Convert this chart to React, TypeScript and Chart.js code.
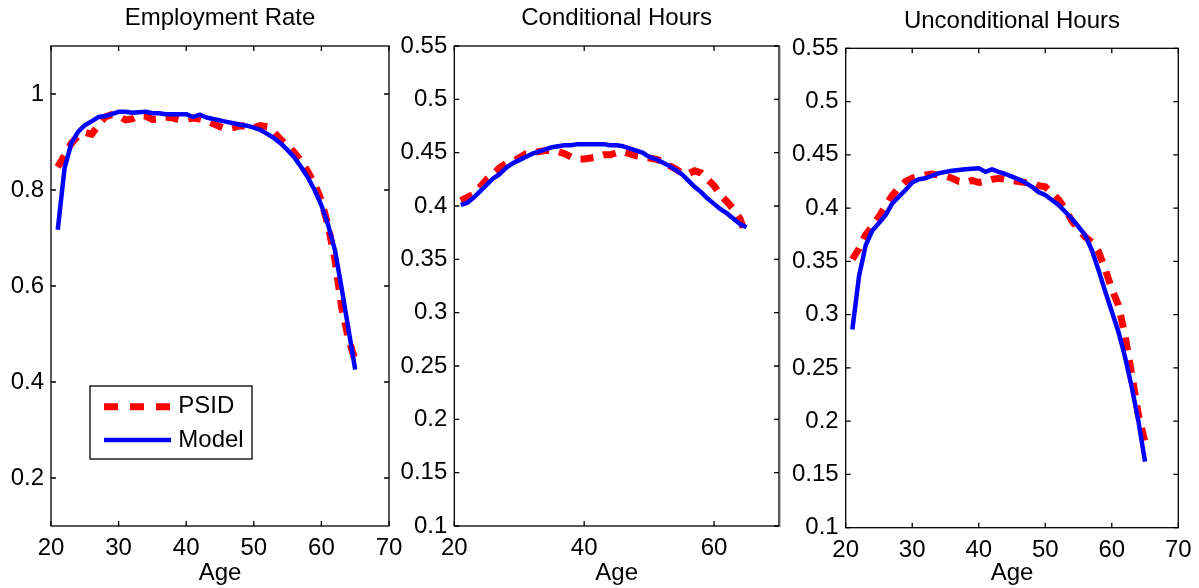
import React, { useEffect, useRef } from "react";
import { Chart, registerables } from "chart.js";

Chart.register(...registerables);

const FONT = '"Liberation Sans", Arial, Helvetica, sans-serif';
const FS = 24;

// ---------------- data ----------------
const ages = [
  21, 22, 23, 24, 25, 26, 27, 28, 29, 30, 31, 32, 33, 34, 35, 36, 37, 38, 39, 40, 41, 42, 43,
  44, 45, 46, 47, 48, 49, 50, 51, 52, 53, 54, 55, 56, 57, 58, 59, 60, 61, 62, 63, 64, 65,
];

const empPSID = [
  0.848, 0.872, 0.897, 0.912, 0.92, 0.916, 0.935, 0.952, 0.957, 0.955, 0.946, 0.948, 0.955,
  0.954, 0.947, 0.948, 0.952, 0.95, 0.946, 0.947, 0.95, 0.948, 0.944, 0.938, 0.932, 0.927,
  0.93, 0.934, 0.933, 0.93, 0.934, 0.932, 0.92, 0.905, 0.893, 0.878, 0.86, 0.838, 0.812,
  0.778, 0.725, 0.655, 0.555, 0.49, 0.445,
];
const empModel = [
  0.717, 0.845, 0.897, 0.921, 0.935, 0.943, 0.952, 0.954, 0.958, 0.963, 0.963, 0.961, 0.962,
  0.963, 0.96, 0.96, 0.958, 0.958, 0.958, 0.958, 0.952, 0.957, 0.951, 0.948, 0.945, 0.942,
  0.939, 0.936, 0.934, 0.93, 0.925, 0.917, 0.908, 0.897, 0.883, 0.868, 0.848, 0.826, 0.8,
  0.768, 0.727, 0.675, 0.595, 0.51, 0.426,
];

const condPSID = [
  0.405, 0.408, 0.411, 0.418, 0.425, 0.43, 0.436, 0.44, 0.442, 0.445, 0.449, 0.45, 0.451,
  0.452, 0.452, 0.451, 0.449, 0.446, 0.444, 0.444, 0.445, 0.446, 0.448, 0.448, 0.45, 0.451,
  0.449, 0.447, 0.446, 0.445, 0.444, 0.442, 0.438, 0.435, 0.431, 0.43, 0.433, 0.431, 0.425,
  0.419, 0.41, 0.404, 0.397, 0.388, 0.371,
];
const condModel = [
  0.401, 0.403, 0.408, 0.414, 0.42, 0.426, 0.43, 0.436, 0.44, 0.443, 0.446, 0.449, 0.451,
  0.453, 0.455, 0.456, 0.457, 0.457, 0.458, 0.458, 0.458, 0.458, 0.458, 0.457, 0.457, 0.456,
  0.454, 0.452, 0.45, 0.446, 0.444, 0.441, 0.438, 0.434, 0.43, 0.424, 0.418, 0.413, 0.407,
  0.402, 0.397, 0.393, 0.388, 0.383, 0.38,
];

const uncondPSID = [
  0.352, 0.362, 0.375, 0.383, 0.392, 0.402, 0.412, 0.419, 0.425, 0.428, 0.43, 0.431, 0.432,
  0.431, 0.43, 0.428, 0.425, 0.424, 0.426, 0.424, 0.425, 0.427, 0.428, 0.427, 0.426, 0.425,
  0.424, 0.424, 0.421, 0.42, 0.414, 0.408, 0.399, 0.388, 0.38, 0.373, 0.368, 0.359, 0.343,
  0.324, 0.309, 0.28, 0.244, 0.206, 0.18,
];
const uncondModel = [
  0.286, 0.336, 0.365, 0.379, 0.386, 0.3935, 0.4045, 0.4107, 0.417, 0.424, 0.427, 0.428,
  0.4304, 0.4327, 0.434, 0.435, 0.4358, 0.4364, 0.437, 0.4375, 0.434, 0.4364, 0.434, 0.432,
  0.4295, 0.427, 0.424, 0.42, 0.415, 0.4123, 0.4076, 0.403, 0.3966, 0.39, 0.3825, 0.3747,
  0.3607, 0.342, 0.322, 0.303, 0.284, 0.26, 0.232, 0.2, 0.162,
];

const empYTicks = [0.2, 0.4, 0.6, 0.8, 1];
const hoursYTicks = [0.1, 0.15, 0.2, 0.25, 0.3, 0.35, 0.4, 0.45, 0.5, 0.55];
const xTicksTen = [20, 30, 40, 50, 60, 70];
const xTicksTwenty = [20, 40, 60];

const titles = ["Employment Rate", "Conditional Hours", "Unconditional Hours"];
const seriesNames = ["PSID", "Model"];
const xAxisTitle = "Age";

// ---------------- layout (not data) ----------------
const panels = [
  {
    title: titles[0], psid: empPSID, model: empModel, yMin: 0.1, yMax: 1.1,
    yTicks: empYTicks, xTicks: xTicksTen,
    left: 0, width: 420, yWidth: 51, padRight: 31, titleTop: 4.1, titleBottom: 13.1,
    xHeight: 62, legend: true,
  },
  {
    title: titles[1], psid: condPSID, model: condModel, yMin: 0.1, yMax: 0.55,
    yTicks: hoursYTicks, xTicks: xTicksTwenty,
    left: 395, width: 410, yWidth: 59.3, padRight: 26, titleTop: 4.1, titleBottom: 13.1,
    xHeight: 62, legend: false,
  },
  {
    title: titles[2], psid: uncondPSID, model: uncondModel, yMin: 0.1, yMax: 0.55,
    yTicks: hoursYTicks, xTicks: xTicksTen,
    left: 785, width: 424, yWidth: 60.7, padRight: 30.7, titleTop: 6.9, titleBottom: 12.6,
    xHeight: 60.3, legend: false,
  },
];

const RED = "#ff0000";
const BLUE = "#0000ff";
const RED_W = 7;
const BLUE_W = 4.5;
const DASH = [13, 10];

const framePlugin = {
  id: "frameBox",
  afterDraw(chart: any, _args: any, opts: any) {
    const { ctx, chartArea: a, scales } = chart;
    ctx.save();
    ctx.strokeStyle = "#000";
    ctx.lineWidth = 1.3;
    ctx.setLineDash([]);
    ctx.strokeRect(a.left, a.top, a.right - a.left, a.bottom - a.top);
    const L = 5;
    ctx.beginPath();
    scales.x.ticks.forEach((t: any) => {
      const px = scales.x.getPixelForValue(t.value);
      ctx.moveTo(px, a.bottom);
      ctx.lineTo(px, a.bottom - L);
      ctx.moveTo(px, a.top);
      ctx.lineTo(px, a.top + L);
    });
    scales.y.ticks.forEach((t: any) => {
      const py = scales.y.getPixelForValue(t.value);
      ctx.moveTo(a.left, py);
      ctx.lineTo(a.left + L, py);
      ctx.moveTo(a.right, py);
      ctx.lineTo(a.right - L, py);
    });
    ctx.stroke();

    if (opts && opts.legend) {
      const bx = a.left + 39;
      const by = a.top + 340;
      const bw = 162;
      const bh = 73;
      ctx.fillStyle = "#fff";
      ctx.fillRect(bx, by, bw, bh);
      ctx.strokeStyle = "#000";
      ctx.lineWidth = 1.3;
      ctx.strokeRect(bx, by, bw, bh);
      const rows = [by + 20.7, by + 54];
      const dsList = chart.data.datasets;
      dsList.forEach((ds: any, i: number) => {
        const y = rows[i];
        ctx.save();
        ctx.strokeStyle = ds.borderColor;
        ctx.lineWidth = ds.borderWidth;
        ctx.lineCap = "butt";
        ctx.setLineDash(ds.borderDash && ds.borderDash.length ? [14, 12] : []);
        ctx.beginPath();
        ctx.moveTo(bx + 14, y);
        ctx.lineTo(bx + 81, y);
        ctx.stroke();
        ctx.restore();
        ctx.fillStyle = "#000";
        ctx.font = `${FS}px ${FONT}`;
        ctx.textBaseline = "middle";
        ctx.textAlign = "left";
        ctx.fillText(ds.label, bx + 88.3, y);
      });
    }
    ctx.restore();
  },
};

function makeConfig(p: any): any {
  const font = { family: FONT, size: FS };
  return {
    type: "line",
    data: {
      datasets: [
        {
          label: seriesNames[0],
          data: ages.map((a, i) => ({ x: a, y: p.psid[i] })),
          borderColor: RED,
          backgroundColor: RED,
          borderWidth: RED_W,
          borderDash: DASH,
          borderCapStyle: "butt",
          pointRadius: 0,
          tension: 0,
          fill: false,
          order: 1,
        },
        {
          label: seriesNames[1],
          data: ages.map((a, i) => ({ x: a, y: p.model[i] })),
          borderColor: BLUE,
          backgroundColor: BLUE,
          borderWidth: BLUE_W,
          borderCapStyle: "butt",
          borderJoinStyle: "round",
          pointRadius: 0,
          tension: 0,
          fill: false,
          order: 0,
        },
      ],
    },
    options: {
      responsive: false,
      animation: false,
      devicePixelRatio: 1,
      layout: { padding: { left: 0, right: p.padRight, top: 0, bottom: 0 } },
      plugins: {
        legend: { display: false },
        tooltip: { enabled: false },
        title: {
          display: true,
          text: p.title,
          color: "#000",
          font: { family: FONT, size: FS, weight: "normal" },
          padding: { top: p.titleTop, bottom: p.titleBottom },
          fullSize: false,
        },
        frameBox: { legend: p.legend },
      },
      scales: {
        x: {
          type: "linear",
          min: 20,
          max: 70,
          grid: { display: false, drawTicks: false, tickLength: 0 },
          border: { display: false },
          ticks: {
            color: "#000",
            font,
            padding: 8,
            autoSkip: false,
            maxRotation: 0,
            callback: (v: any) => String(v),
          },
          afterBuildTicks: (scale: any) => {
            scale.ticks = p.xTicks.map((v: number) => ({ value: v }));
          },
          afterFit: (scale: any) => {
            scale.height = p.xHeight;
          },
          title: {
            display: true,
            text: xAxisTitle,
            color: "#000",
            font,
            padding: { top: 0, bottom: 0 },
          },
        },
        y: {
          type: "linear",
          min: p.yMin,
          max: p.yMax,
          grid: { display: false, drawTicks: false, tickLength: 0 },
          border: { display: false },
          ticks: {
            color: "#000",
            font,
            padding: 7,
            autoSkip: false,
            callback: (v: any) => String(v),
          },
          afterBuildTicks: (scale: any) => {
            scale.ticks = p.yTicks.map((v: number) => ({ value: v }));
          },
          afterFit: (scale: any) => {
            scale.width = p.yWidth;
          },
        },
      },
    },
    plugins: [framePlugin],
  };
}

function Panel({ p }: { p: any }) {
  const ref = useRef<HTMLCanvasElement | null>(null);
  useEffect(() => {
    if (!ref.current) return;
    const chart = new Chart(ref.current, makeConfig(p));
    return () => chart.destroy();
  }, [p]);
  return (
    <canvas
      ref={ref}
      width={p.width}
      height={588}
      style={{ position: "absolute", left: p.left, top: 0, width: p.width, height: 588 }}
    />
  );
}

export default function App() {
  return (
    <div
      style={{
        position: "absolute",
        left: 0,
        top: 0,
        width: 1199,
        height: 588,
        background: "#fff",
        overflow: "hidden",
      }}
    >
      <div
        style={{
          position: "absolute",
          left: 780,
          top: 45,
          width: 1,
          height: 482,
          background: "#c4c4c4",
        }}
      />
      {panels.map((p, i) => (
        <Panel key={i} p={p} />
      ))}
    </div>
  );
}
